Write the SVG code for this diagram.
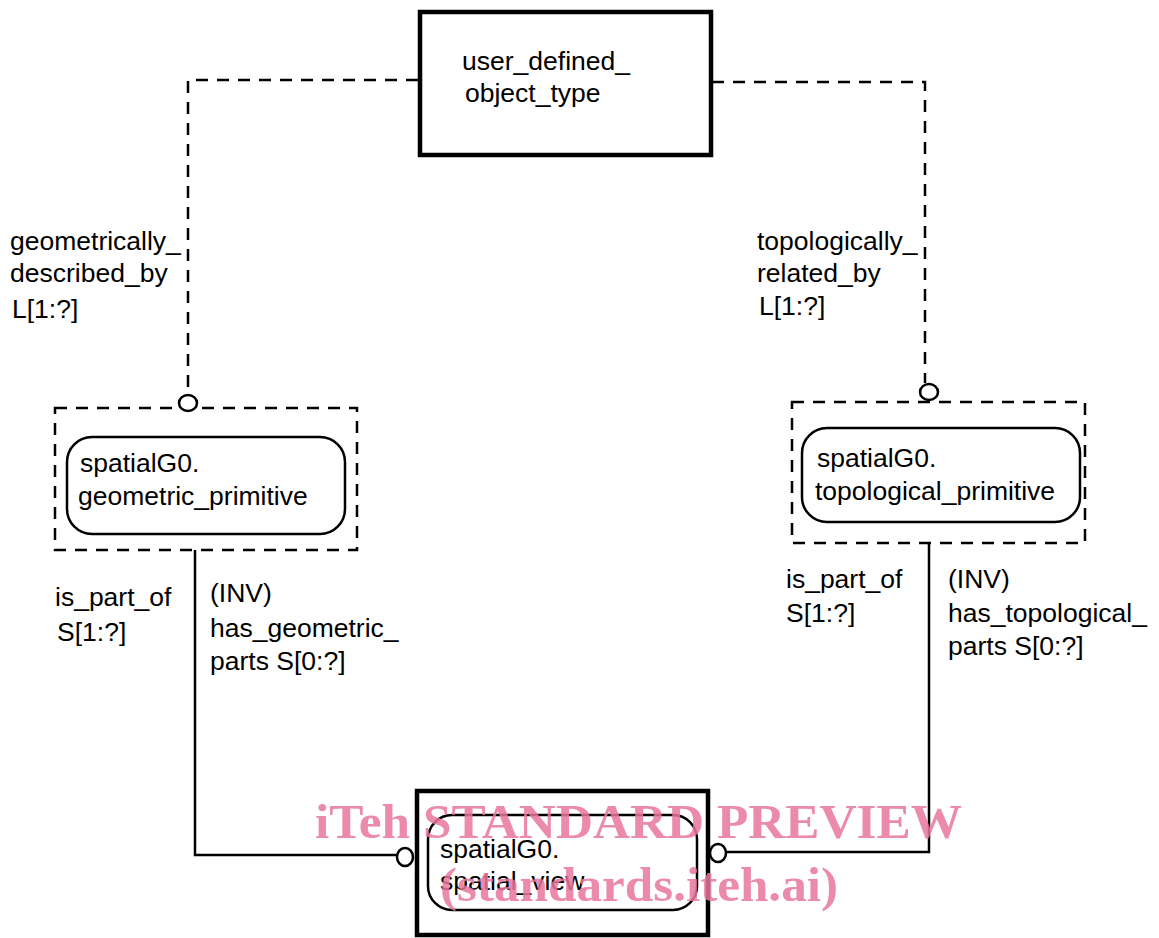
<svg xmlns="http://www.w3.org/2000/svg" width="1159" height="938" viewBox="0 0 1159 938">
<style>
text{font-family:"Liberation Sans",Arial,sans-serif;font-size:26.5px;fill:#000}
.dash{fill:none;stroke:#000;stroke-width:2.5;stroke-dasharray:12,9}
.solid{fill:none;stroke:#000;stroke-width:2.5}
.thick{fill:#fff;stroke:#000;stroke-width:4.5}
.rr{fill:none;stroke:#000;stroke-width:2.5}
.circ{fill:#fff;stroke:#000;stroke-width:2.5}
.wm{font-family:"Liberation Serif","Times New Roman",serif;font-weight:bold;font-size:48px;fill:#e8759b;fill-opacity:0.85}
</style>
<rect width="1159" height="938" fill="#fff"/>
<g id="connectors">
<path class="dash" d="M418,80 H188 V395"/>
<path class="dash" d="M712,82 H925 V383"/>
<path class="solid" d="M195,550 V855 H396"/>
<path class="solid" d="M929,543 V852 H727"/>
<text x="10" y="250">geometrically_</text>
<text x="10" y="282">described_by</text>
<text x="12" y="318">L[1:?]</text>
<text x="757" y="250">topologically_</text>
<text x="757" y="282">related_by</text>
<text x="759" y="315">L[1:?]</text>
<text x="55" y="606">is_part_of</text>
<text x="57" y="641">S[1:?]</text>
<text x="210" y="602">(INV)</text>
<text x="210" y="637">has_geometric_</text>
<text x="210" y="670">parts S[0:?]</text>
<text x="786" y="588">is_part_of</text>
<text x="786" y="622">S[1:?]</text>
<text x="948" y="588">(INV)</text>
<text x="948" y="622">has_topological_</text>
<text x="948" y="655">parts S[0:?]</text>
</g>
<g id="user_defined_object_type">
<rect class="thick" x="420" y="12" width="291" height="143"/>
<text x="462" y="70">user_defined_</text>
<text x="465" y="102">object_type</text>
</g>
<g id="geometric_primitive">
<rect class="dash" x="55" y="408" width="302" height="142"/>
<ellipse class="circ" cx="188" cy="403" rx="9" ry="8"/>
<rect class="rr" x="67" y="437" width="278" height="97" rx="25"/>
<text x="80" y="472">spatialG0.</text>
<text x="78" y="505">geometric_primitive</text>
</g>
<g id="topological_primitive">
<rect class="dash" x="792" y="402" width="293" height="141"/>
<ellipse class="circ" cx="929" cy="392" rx="9" ry="8"/>
<rect class="rr" x="802" y="428" width="278" height="94" rx="25"/>
<text x="817" y="467">spatialG0.</text>
<text x="815" y="500">topological_primitive</text>
</g>
<g id="spatial_view">
<rect class="thick" x="417" y="791" width="291" height="144"/>
<rect class="rr" x="428" y="815" width="269" height="95" rx="24"/>
<ellipse class="circ" cx="405" cy="857" rx="8" ry="9"/>
<ellipse class="circ" cx="718" cy="853" rx="8" ry="9"/>
<text x="440" y="858">spatialG0.</text>
<text x="440" y="890">spatial_view</text>
</g>
<g id="watermark">
<text class="wm" x="315" y="838" textLength="647" lengthAdjust="spacingAndGlyphs">iTeh STANDARD PREVIEW</text>
<text class="wm" x="440" y="901" textLength="398" lengthAdjust="spacingAndGlyphs">(standards.iteh.ai)</text>
</g>
</svg>
